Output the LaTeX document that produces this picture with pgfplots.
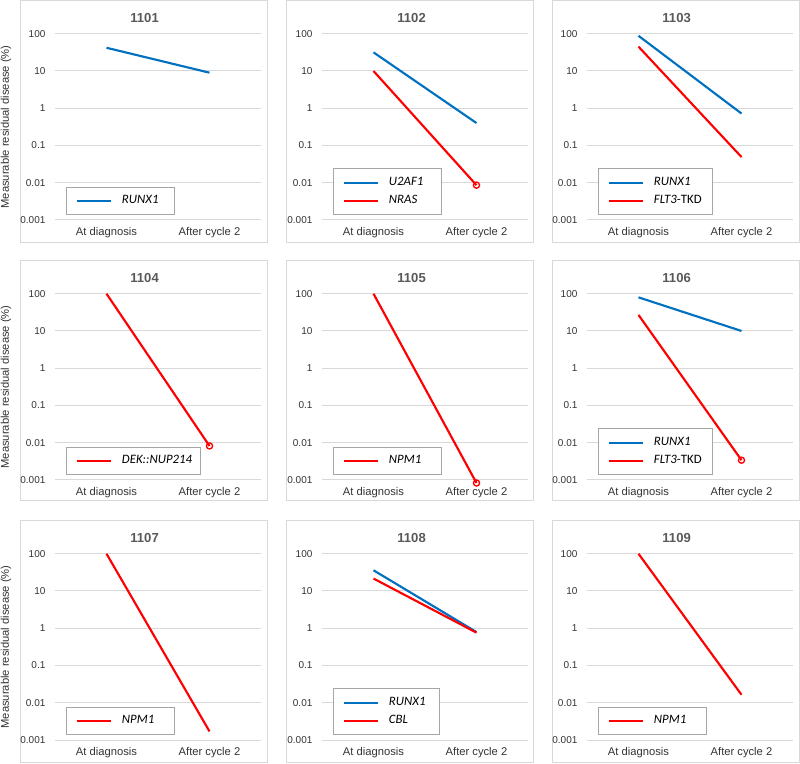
\documentclass[border=0pt]{standalone}
\usepackage{pgfplots}
\pgfplotsset{compat=1.18}
\usepackage{fontspec}
\setmainfont{Liberation Sans}
\newfontfamily\calibri{Carlito}
\definecolor{xblue}{HTML}{0070C0}
\definecolor{xred}{HTML}{FF0000}
\definecolor{gridgray}{HTML}{D9D9D9}
\definecolor{framegray}{HTML}{D9D9D9}
\definecolor{legendgray}{HTML}{A6A6A6}
\definecolor{titlegray}{HTML}{595959}
\definecolor{tickgray}{HTML}{333333}
\pgfplotsset{
 legend image code/.code={\draw[#1] (0pt,0pt) -- (25.5pt,0pt);},
 every axis/.append style={
  scale only axis, width=154.5pt, height=139.7pt,
  ymode=log, ymin=0.001, ymax=100, xmin=-0.5, xmax=1.5,
  xtick={0,1}, xticklabels={At diagnosis,After cycle 2},
  ytick={0.001,0.01,0.1,1,10,100}, yticklabels={0.001,0.01,0.1,1,10,100},
  ymajorgrids, major grid style={draw=gridgray, line width=0.75pt},
  axis line style={draw=none}, tick style={draw=none}, major tick length=0pt, minor tick length=0pt,
  clip=false,
  xticklabel style={font=\fontsize{8.4}{10}\selectfont, text=tickgray, inner sep=0pt, yshift=-5.6pt},
  yticklabel style={font=\fontsize{7.5}{9}\selectfont, text=tickgray, inner sep=0pt, xshift=-7pt},
  title style={at={(axis description cs:0.435,1)}, anchor=center, yshift=6pt, font=\bfseries\fontsize{9.8}{12}\selectfont, text=titlegray},
  legend style={at={(axis description cs:0.055,0.025)}, anchor=south west, draw=legendgray, line width=0.75pt, fill=white,
    inner xsep=6.75pt, inner ysep=6pt, row sep=5pt, column sep=7.5pt,
    nodes={inner sep=0pt, text height=6.4pt, text depth=2.3pt, font=\calibri\fontsize{9.6}{11}\selectfont}},
  legend cell align=left,
  ylabel style={at={(axis description cs:-0.238,0.5)}, rotate=0, anchor=center, font=\fontsize{8.4}{10}\selectfont, text=tickgray},
 },
 every axis plot/.append style={line width=1.6pt},
}
\begin{document}
\begin{tikzpicture}
\useasboundingbox (0,0) rectangle (600pt,573pt);
% panel frames
\foreach \x in {15,214.5,414}{
  \foreach \ya/\yb in {390.75/572.6, 197.25/377.25, 0.75/182.25}{
    \draw[framegray, line width=0.75pt] (\x pt,\ya pt) rectangle ({\x pt+185.25pt},\yb pt);
  }
}
% Row 1
\begin{axis}[ylabel={Measurable residual disease (\%)}, at={(41.25pt,408pt)}, anchor=south west, title={1101}]
\addplot[xblue] coordinates {(0,42) (1,9.0)};
\addlegendentry{\makebox[33pt][l]{\textit{RUNX1}}}
\end{axis}
\begin{axis}[at={(241.5pt,408pt)}, anchor=south west, title={1102}]
\addplot[xblue] coordinates {(0,31.6) (1,0.40)};
\addlegendentry{\makebox[33pt][l]{\textit{U2AF1}}}
\addplot[xred, mark=o, mark indices={2}, mark size=2.3pt, mark options={solid, fill=white, draw=xred, line width=1pt}] coordinates {(0,10) (1,0.0086)};
\addlegendentry{\makebox[33pt][l]{\textit{NRAS}}}
\end{axis}
\begin{axis}[at={(440.25pt,408pt)}, anchor=south west, title={1103}]
\addplot[xblue] coordinates {(0,88) (1,0.72)};
\addlegendentry{\makebox[37.5pt][l]{\textit{RUNX1}}}
\addplot[xred] coordinates {(0,45) (1,0.049)};
\addlegendentry{\makebox[37.5pt][l]{\textit{FLT3}-TKD}}
\end{axis}
% Row 2
\begin{axis}[ylabel={Measurable residual disease (\%)}, at={(41.25pt,213pt)}, anchor=south west, title={1104}]
\addplot[xred, mark=o, mark indices={2}, mark size=2.3pt, mark options={solid, fill=white, draw=xred, line width=1pt}] coordinates {(0,100) (1,0.0082)};
\addlegendentry{\makebox[52.5pt][l]{\textit{DEK::NUP214}}}
\end{axis}
\begin{axis}[at={(241.5pt,213pt)}, anchor=south west, title={1105}]
\addplot[xred, mark=o, mark indices={2}, mark size=2.3pt, mark options={solid, fill=white, draw=xred, line width=1pt}] coordinates {(0,100) (1,0.00083)};
\addlegendentry{\makebox[33pt][l]{\textit{NPM1}}}
\end{axis}
\begin{axis}[at={(440.25pt,213pt)}, anchor=south west, title={1106}]
\addplot[xblue] coordinates {(0,80) (1,10)};
\addlegendentry{\makebox[37.5pt][l]{\textit{RUNX1}}}
\addplot[xred, mark=o, mark indices={2}, mark size=2.3pt, mark options={solid, fill=white, draw=xred, line width=1pt}] coordinates {(0,27) (1,0.0034)};
\addlegendentry{\makebox[37.5pt][l]{\textit{FLT3}-TKD}}
\end{axis}
% Row 3
\begin{axis}[ylabel={Measurable residual disease (\%)}, at={(41.25pt,18pt)}, anchor=south west, title={1107}]
\addplot[xred] coordinates {(0,100) (1,0.0017)};
\addlegendentry{\makebox[33pt][l]{\textit{NPM1}}}
\end{axis}
\begin{axis}[at={(241.5pt,18pt)}, anchor=south west, title={1108}]
\addplot[xblue] coordinates {(0,36) (1,0.79)};
\addlegendentry{\makebox[31pt][l]{\textit{RUNX1}}}
\addplot[xred] coordinates {(0,21.6) (1,0.76)};
\addlegendentry{\makebox[31pt][l]{\textit{CBL}}}
\end{axis}
\begin{axis}[at={(440.25pt,18pt)}, anchor=south west, title={1109}]
\addplot[xred] coordinates {(0,100) (1,0.0164)};
\addlegendentry{\makebox[33pt][l]{\textit{NPM1}}}
\end{axis}
\end{tikzpicture}
\end{document}
